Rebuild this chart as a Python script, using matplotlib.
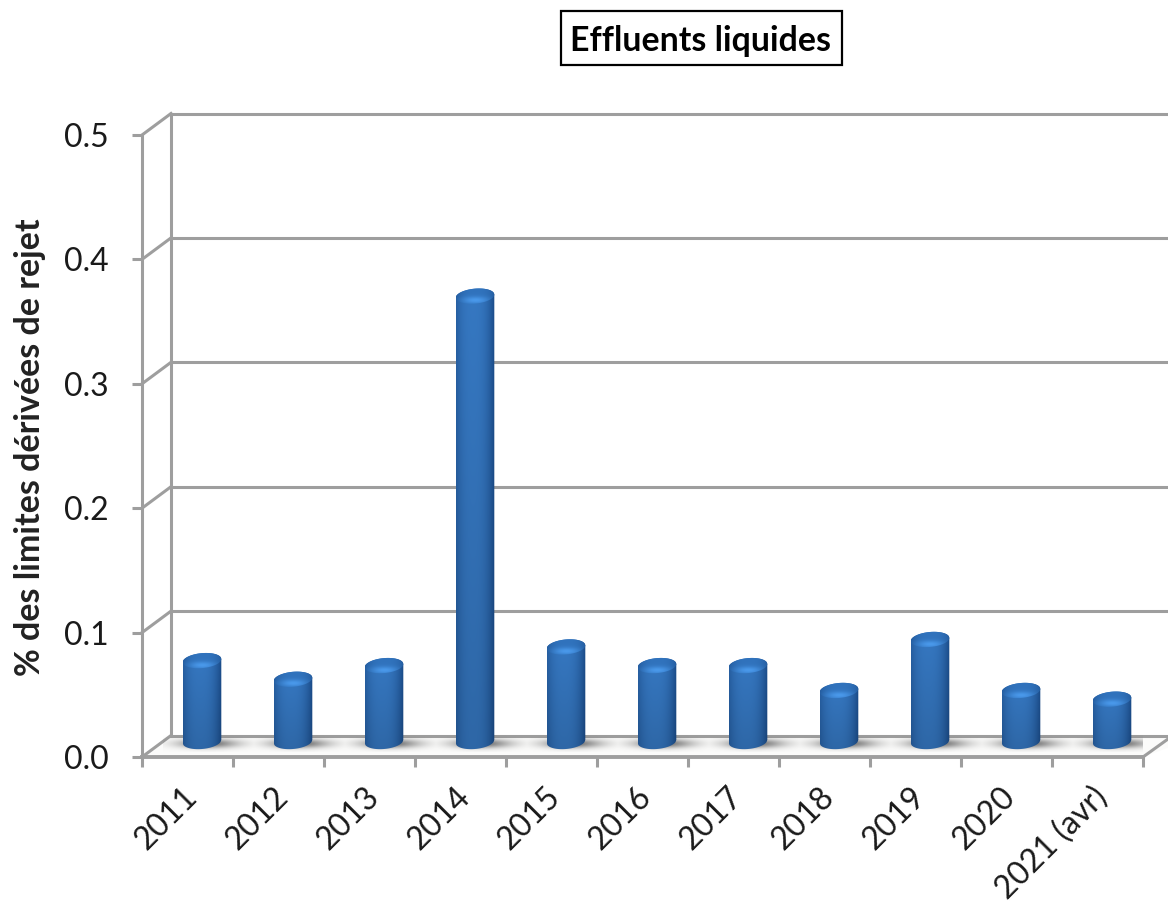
import numpy as np
import matplotlib
matplotlib.use("Agg")
import matplotlib.pyplot as plt
from matplotlib.patches import Polygon, PathPatch, Rectangle
from matplotlib.path import Path
from matplotlib.transforms import ScaledTranslation

years = ["2011", "2012", "2013", "2014", "2015", "2016", "2017", "2018", "2019", "2020", "2021 (avr)"]
values = [0.065, 0.050, 0.061, 0.358, 0.076, 0.061, 0.061, 0.041, 0.082, 0.041, 0.034]
y_ticks = [0.0, 0.1, 0.2, 0.3, 0.4, 0.5]
title = "Effluents liquides"
y_title = "% des limites dérivées de rejet"

W, H = 1168, 908
plt.rcParams["font.family"] = ["Lato", "DejaVu Sans"]
fig = plt.figure(figsize=(W / 100, H / 100), dpi=100, facecolor="white")
ax = fig.add_axes([142 / W, 1 - 757 / H, 1001 / W, 622 / H])
ax.patch.set_alpha(0)
for s in ax.spines.values():
    s.set_visible(False)

n = len(years)
sx = n / 1001   # data units per pixel, horizontally
sy = 0.5 / 622  # data units per pixel, vertically
depth_x, depth_y = 29 * sx, 21.5 * sy
frame = "#9e9e9e"
lw = 2.2

# floor of the 3D box
ax.add_patch(Polygon([(0, 0), (depth_x, depth_y), (n + 2 * depth_x, depth_y), (n, 0)],
                     closed=True, fc="#fbfbfa", ec="none", zorder=1, clip_on=False))

# back wall gridlines and side wall diagonals
for t in y_ticks:
    ax.plot([depth_x, n + 2 * depth_x], [t + depth_y] * 2, color=frame, lw=lw, zorder=2, clip_on=False)
    ax.plot([0, depth_x], [t, t + depth_y], color=frame, lw=lw, zorder=2, clip_on=False)
ax.plot([depth_x, depth_x], [depth_y, 0.5 + depth_y], color=frame, lw=lw, zorder=2, clip_on=False)
ax.plot([0, 0], [0, 0.5], color=frame, lw=lw, zorder=2, clip_on=False)
ax.plot([0, n], [0, 0], color=frame, lw=lw + 0.6, zorder=2, clip_on=False)
ax.plot([n, n + 25 * sx], [0, 18 * sy], color=frame, lw=lw, zorder=2, clip_on=False)

half = 19.3 * sx
cap = 7.5 * sy
tilt = 1.6 * sy
off_x, off_y = 14.5 * sx, 15.5 * sy


def shadow_image():
    yy, xx = np.mgrid[-1:1:60j, -1:1:160j]
    a = np.exp(-((xx * 1.25) ** 2 + (yy * 1.5) ** 2) * 1.5) * 0.95
    img = np.zeros((60, 160, 4))
    img[..., :3] = 0.42
    img[..., 3] = a
    return img


def bar_image(height_px):
    rows = max(int(height_px), 8)
    t = np.linspace(-1, 1, 80)
    shade = np.clip(1 - np.abs((t + 0.12) / 1.12) ** 2.6, 0, 1)
    dark = np.array([0.10, 0.29, 0.53])
    light = np.array([0.21, 0.47, 0.76])
    body = dark[None, :] + (light - dark)[None, :] * shade[:, None]
    fade = np.linspace(1.0, 0.86, rows)[:, None, None]
    return np.clip(body[None, :, :] * fade, 0, 1)


def cylinder_path(cx, y0, y1):
    t = np.linspace(-1, 1, 50)
    xs = cx + half * t
    upper = y1 + cap * np.sqrt(1 - t ** 2) + tilt * t
    lower = y0 - cap * np.sqrt(1 - t ** 2) + tilt * t
    verts = np.r_[np.c_[xs, upper], np.c_[xs[::-1], lower[::-1]]]
    return Path(np.r_[verts, verts[:1]], closed=True)


def cap_image():
    yy, xx = np.mgrid[1:-1:50j, -1:1:80j]
    edge = np.clip(1 - np.abs(xx) ** 3, 0, 1)[..., None]
    base = np.array([0.14, 0.36, 0.62]) + edge * np.array([0.05, 0.09, 0.12])
    glow = np.exp(-((xx / 0.7) ** 2 + ((yy + 0.5) / 0.38) ** 2))
    img = base + glow[..., None] * np.array([0.10, 0.15, 0.18])
    return np.clip(img, 0, 1)


for i, v in enumerate(values):
    cx = i + 0.5 + off_x
    y0 = off_y
    y1 = v + off_y
    # soft floor shadow
    ax.imshow(shadow_image(), extent=(cx - 2.0 * half, cx + 2.7 * half, y0 - 11 * sy, y0 + 6 * sy),
              aspect="auto", zorder=3, interpolation="bilinear")
    # cylinder body
    im = ax.imshow(bar_image(v / sy), extent=(cx - half, cx + half, y0 - cap - tilt, y1 + cap + tilt),
                   aspect="auto", zorder=4, interpolation="bilinear")
    im.set_clip_path(PathPatch(cylinder_path(cx, y0, y1), transform=ax.transData))
    # top cap
    t = np.linspace(0, 2 * np.pi, 80)
    ring = np.c_[cx + half * np.cos(t), y1 + cap * np.sin(t) + tilt * np.cos(t)]
    c = ax.imshow(cap_image(), extent=(cx - half, cx + half, y1 - cap - tilt, y1 + cap + tilt),
                  aspect="auto", zorder=5, interpolation="bilinear")
    c.set_clip_path(PathPatch(Path(ring, closed=True), transform=ax.transData))

ax.set_xlim(0, n)
ax.set_ylim(0, 0.5)

# category ticks sit between the bars, labels on the minor positions
ax.set_xticks(np.arange(n + 1))
ax.set_xticklabels([])
ax.set_xticks(np.arange(n) + 0.5, minor=True)
ax.set_xticklabels(years, minor=True, rotation=45, ha="right", va="top",
                   rotation_mode="anchor", fontsize=23, color="#1a1a1a")
ax.tick_params(axis="x", which="major", length=7.5, width=lw, color=frame, direction="out")
ax.tick_params(axis="x", which="minor", length=0, pad=18)
shift = ScaledTranslation(-6 / 100, 0, fig.dpi_scale_trans)
for lab in ax.get_xticklabels(minor=True):
    lab.set_transform(lab.get_transform() + shift)

ax.set_yticks(y_ticks)
ax.set_yticklabels([f"{t:.1f}" for t in y_ticks], fontsize=23, color="#1a1a1a")
ax.tick_params(axis="y", length=7, width=lw, color=frame, direction="out", pad=17)

fig.text(30 / W, 1 - 447 / H, y_title, rotation=90, ha="center", va="center",
         fontsize=24.5, fontweight="bold", color="#222222")

# boxed chart title
fig.add_artist(Rectangle((561 / W, 1 - 65 / H), 281 / W, 54 / H, transform=fig.transFigure,
                         fc="white", ec="black", lw=1.6))
fig.text(701 / W, 1 - 41 / H, title, ha="center", va="center",
         fontsize=24.4, fontweight="bold", color="black")

fig.savefig("out.png", dpi=100)
